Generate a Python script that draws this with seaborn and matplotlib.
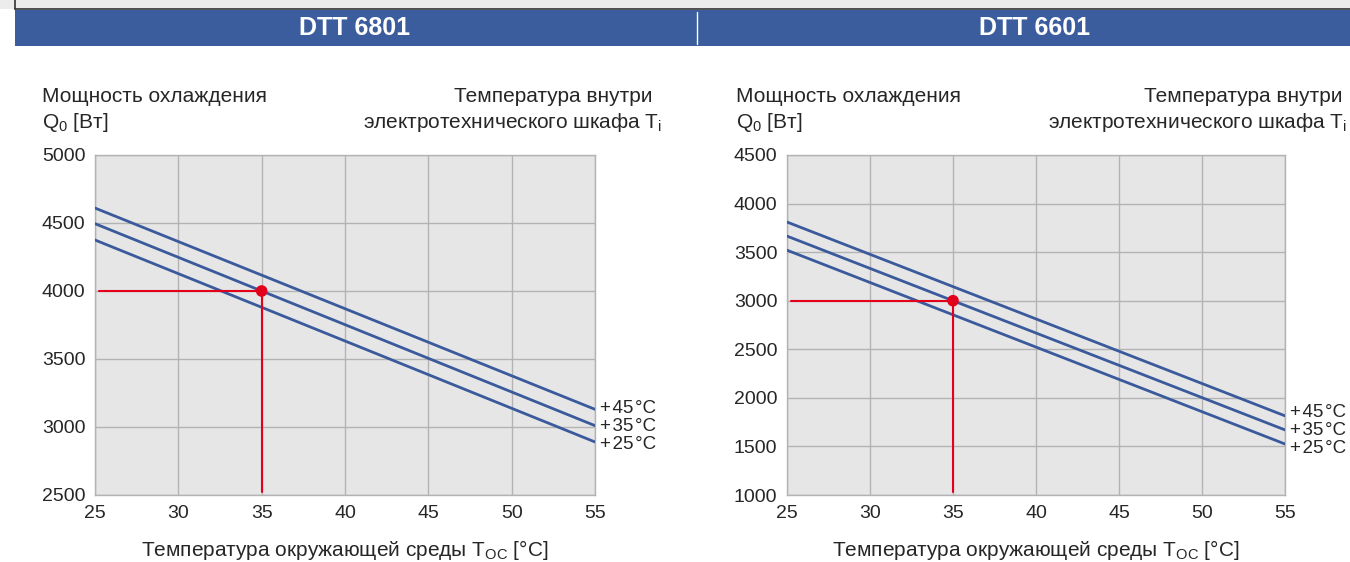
import numpy as np
import pandas as pd
import seaborn as sns
import matplotlib.pyplot as plt
from matplotlib.patches import Rectangle

# --------------------------- DATA ---------------------------
models = ['DTT 6801', 'DTT 6601']
inside_temps = ['+\u200a45\u200a°C', '+\u200a35\u200a°C', '+\u200a25\u200a°C']
ambient = [25, 55]

# cooling power at ambient 25 and 55 °C, per inside temperature (45, 35, 25)
power_6801 = [[4610, 3130], [4495, 3010], [4375, 2890]]
power_6601 = [[3810, 1815], [3665, 1670], [3520, 1525]]

# operating point
op_temp = [35, 35]
op_power = [4000, 3000]

ylims = [(2500, 5000), (1000, 4500)]
xticks = [25, 30, 35, 40, 45, 50, 55]

# --------------------------- STYLE ---------------------------
sns.set_style('whitegrid')
plt.rcParams['font.family'] = ['Liberation Sans', 'DejaVu Sans']
plt.rcParams['mathtext.fontset'] = 'custom'
plt.rcParams['mathtext.rm'] = 'Liberation Sans'
plt.rcParams['mathtext.it'] = 'Liberation Sans'

line_blue = '#3a5a9c'
red = '#e2001a'
W, H = 1350, 562
fs = 15

fig = plt.figure(figsize=(13.5, 5.62), dpi=100)


def fx(px):
    return px / W


def fy(py):
    return 1 - py / H


# --------------------------- HEADER ---------------------------
fig.patches.append(Rectangle((0, fy(9)), 1, 1 - fy(9), transform=fig.transFigure,
                             facecolor='#ececec', edgecolor='none'))
fig.patches.append(Rectangle((fx(15), fy(46)), 1 - fx(15), fy(10) - fy(46), transform=fig.transFigure,
                             facecolor='#3b5d9d', edgecolor='none'))
fig.add_artist(plt.Line2D([fx(15), 1], [fy(9), fy(9)], color='#333333', lw=1.2, transform=fig.transFigure))
fig.add_artist(plt.Line2D([fx(15), fx(15)], [fy(0), fy(9)], color='#333333', lw=1.2, transform=fig.transFigure))
fig.add_artist(plt.Line2D([fx(697), fx(697)], [fy(12), fy(44)], color='white', lw=1, transform=fig.transFigure))
fig.text(fx(355), fy(28), models[0], color='white', fontsize=18, fontweight='bold', ha='center', va='center')
fig.text(fx(1035), fy(28), models[1], color='white', fontsize=18, fontweight='bold', ha='center', va='center')

# --------------------------- PANELS ---------------------------
panels = [
    dict(pos=[fx(95), fy(495), fx(500), fy(155) - fy(495)], data=power_6801, left=42, right=652, right2=662),
    dict(pos=[fx(787), fy(495), fx(498), fy(155) - fy(495)], data=power_6601, left=736, right=1343, right2=1347),
]

for i, p in enumerate(panels):
    ax = fig.add_axes(p['pos'])
    ax.set_facecolor('#e6e6e6')

    rows = []
    for lab, vals in zip(inside_temps, p['data']):
        for t, q in zip(ambient, vals):
            rows.append({'T': t, 'Q': q, 'Ti': lab})
    df = pd.DataFrame(rows)

    sns.lineplot(data=df, x='T', y='Q', hue='Ti', palette=[line_blue] * 3,
                 linewidth=2, legend=False, ax=ax, zorder=3)

    # end labels, stacked around the middle (35 °C) line
    mid_end = p['data'][1][1]
    for k, lab in enumerate(inside_temps):
        ax.annotate(lab, xy=(55, mid_end), xytext=(3.5, 13 * (1 - k) - 0.5), textcoords='offset points',
                    va='center', ha='left', fontsize=13.5, annotation_clip=False)

    y0, y1 = ylims[i]
    ax.plot([25.25, op_temp[i]], [op_power[i], op_power[i]], color=red, lw=1.5, zorder=4)
    ax.plot([op_temp[i], op_temp[i]], [op_power[i], y0 + (y1 - y0) * 0.01], color=red, lw=1.5, zorder=4)
    ax.scatter([op_temp[i]], [op_power[i]], s=70, color=red, zorder=5, edgecolor='none')

    ax.set_xlim(25, 55)
    ax.set_ylim(y0, y1)
    ax.set_xticks(xticks)
    ax.set_yticks(np.arange(y0, y1 + 1, 500))
    ax.grid(True, color='#b3b3b3', lw=1)
    ax.tick_params(length=0, labelsize=14, pad=7)
    for s in ax.spines.values():
        s.set_color('#b3b3b3')
        s.set_linewidth(1)
    ax.set_xlabel('')
    ax.set_ylabel('')

    cx = (p['pos'][0] + p['pos'][2] / 2)
    fig.text(cx, fy(550), r'Температура окружающей среды T$_{\mathrm{OC}}$ [°C]',
             fontsize=fs, ha='center', va='center')
    fig.text(fx(p['left']), fy(97), 'Мощность охлаждения', fontsize=fs, ha='left', va='center')
    fig.text(fx(p['left']), fy(122), r'Q$_{\mathrm{0}}$ [Вт]', fontsize=fs, ha='left', va='center')
    fig.text(fx(p['right']), fy(97), 'Температура внутри', fontsize=fs, ha='right', va='center')
    fig.text(fx(p['right2']), fy(122), r'электротехнического шкафа T$_{\mathrm{i}}$',
             fontsize=fs, ha='right', va='center')

fig.savefig('out.png', dpi=100)
plt.close()
